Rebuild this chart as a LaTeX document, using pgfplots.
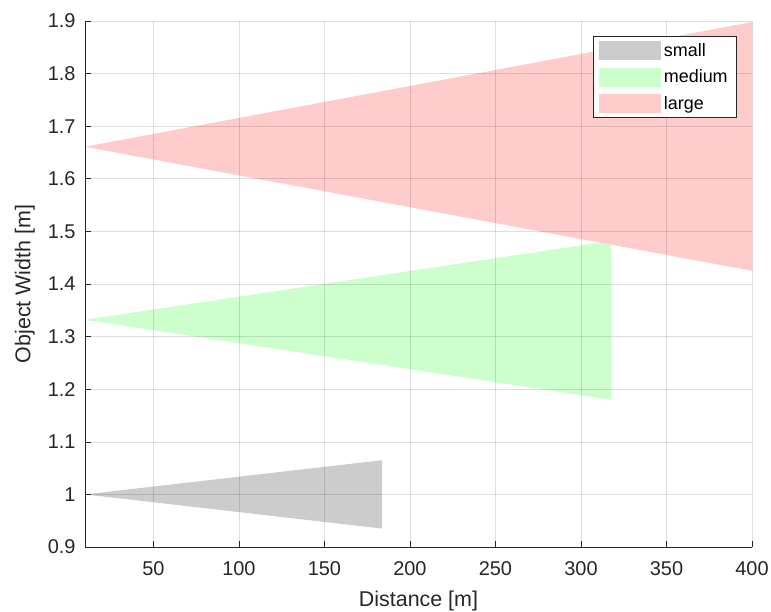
\documentclass[border=0pt]{standalone}
\usepackage{pgfplots}
\pgfplotsset{compat=1.18}
\usepackage{fontspec}
\setmainfont{Liberation Sans}
\definecolor{axc}{RGB}{38,38,38}
\definecolor{cs}{RGB}{204,204,204}
\definecolor{cm}{RGB}{204,255,204}
\definecolor{cl}{RGB}{255,204,204}
\begin{document}
\begin{tikzpicture}
\begin{axis}[
  name=ax,
  scale only axis, width=667bp, height=526bp,
  xmin=10, xmax=400, ymin=0.9, ymax=1.9,
  xtick={50,100,...,400},
  ytick={0.9,1.0,...,1.9},
  yticklabels={0.9,1,1.1,1.2,1.3,1.4,1.5,1.6,1.7,1.8,1.9},
  axis x line*=bottom, axis y line*=left,
  axis line style={axc, line width=0.6pt},
  tick align=inside, major tick length=6bp,
  tick style={axc, line width=0.6pt},
  grid=major, grid style={black, opacity=0.13, line width=0.6pt},
  axis on top,
  /pgf/number format/assume math mode=true,
  tick label style={font=\fontsize{20}{22}\selectfont, text=axc},
  label style={font=\fontsize{21.5}{24}\selectfont, text=axc},
  xticklabel style={yshift=-11bp},
  yticklabel style={xshift=-6bp},
  xlabel={Distance [m]}, ylabel={Object Width [m]},
  xlabel style={yshift=-9bp}, ylabel style={yshift=6bp},
  legend style={at={(rel axis cs:0.9775,0.9715)}, anchor=north east,
    draw=axc, line width=0.6pt, font=\fontsize{18}{20}\selectfont,
    inner xsep=6bp, inner ysep=4bp, row sep=6bp,
    nodes={inner sep=3bp}},
  legend cell align=left,
  legend image code/.code={\fill[#1] (0bp,-9.5bp) rectangle (62bp,9.5bp);},
]
\addplot[fill=cs, draw=none] coordinates {(10,1.0) (183.7,1.065) (183.7,0.935)} -- cycle;
\addlegendentry{small}
\addplot[fill=cm, draw=none] coordinates {(10,1.332) (317.6,1.482) (317.6,1.18)} -- cycle;
\addlegendentry{medium}
\addplot[fill=cl, draw=none] coordinates {(10,1.661) (400,1.898) (400,1.425)} -- cycle;
\addlegendentry{large}
\end{axis}
\pgfresetboundingbox
\path ([xshift=-85bp,yshift=-65bp]ax.south west) rectangle ([xshift=19bp,yshift=21bp]ax.north east);
\end{tikzpicture}
\end{document}
